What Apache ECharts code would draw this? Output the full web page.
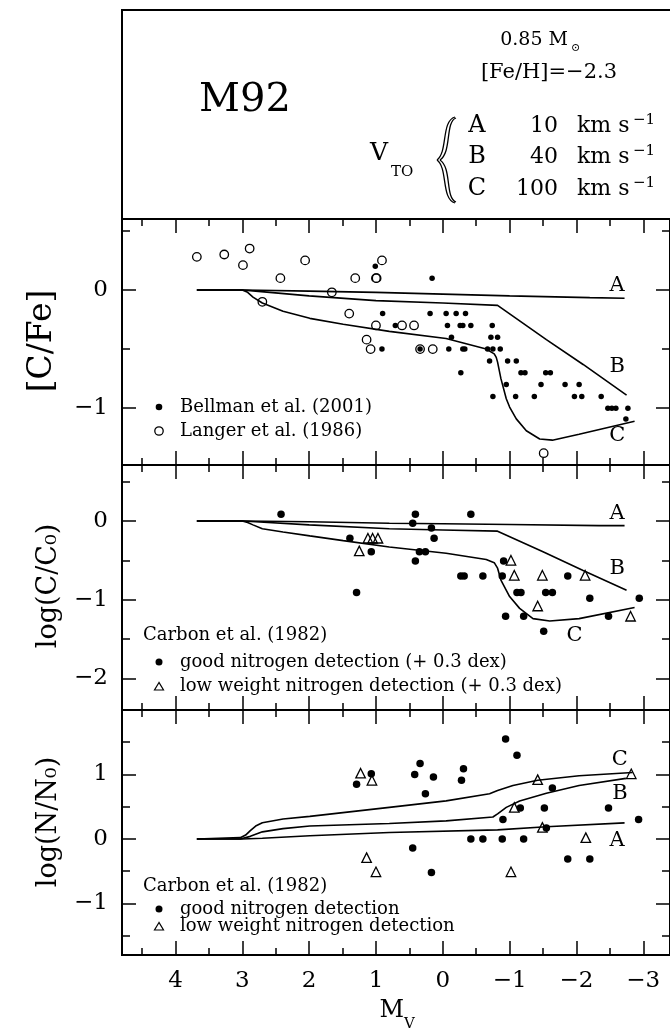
<!DOCTYPE html>
<html><head><meta charset="utf-8">
<script src="https://cdn.jsdelivr.net/npm/echarts@6/dist/echarts.min.js"></script>
<style>html,body{margin:0;padding:0;background:#fff}#c{width:670px;height:1033px}</style>
</head><body><div id="c"></div>
<script>
// ---------------- DATA ----------------
const xTickValues = [4, 3, 2, 1, 0, -1, -2, -3];

// Panel 1: [C/Fe]
const bellmanCFe = [[1.01,0.20],[0.16,0.10],[0.90,-0.20],[0.19,-0.20],[-0.05,-0.20],[-0.20,-0.20],[-0.34,-0.20],[0.71,-0.30],[-0.07,-0.30],[-0.26,-0.30],[-0.30,-0.30],[-0.42,-0.30],[-0.74,-0.30],[-0.13,-0.40],[-0.72,-0.40],[-0.82,-0.40],[0.91,-0.50],[0.34,-0.50],[-0.09,-0.50],[-0.30,-0.50],[-0.33,-0.50],[-0.67,-0.50],[-0.75,-0.50],[-0.86,-0.50],[-0.70,-0.60],[-0.97,-0.60],[-1.10,-0.60],[-0.27,-0.70],[-1.17,-0.70],[-1.23,-0.70],[-1.54,-0.70],[-1.61,-0.70],[-0.95,-0.80],[-1.47,-0.80],[-1.83,-0.80],[-2.04,-0.80],[-0.75,-0.90],[-1.09,-0.90],[-1.37,-0.90],[-1.97,-0.90],[-2.08,-0.90],[-2.37,-0.90],[-2.47,-1.00],[-2.53,-1.00],[-2.59,-1.00],[-2.77,-1.00],[-2.74,-1.09]];
const langerCFe = [[3.68,0.28],[3.27,0.30],[2.99,0.21],[2.89,0.35],[2.43,0.10],[2.06,0.25],[2.70,-0.10],[1.66,-0.02],[1.31,0.10],[0.91,0.25],[1.00,0.10],[0.99,0.10],[1.40,-0.20],[1.00,-0.30],[1.14,-0.42],[1.08,-0.50],[0.61,-0.30],[0.43,-0.30],[0.34,-0.50],[0.15,-0.50],[-1.51,-1.38]];
const modelA_CFe = [[3.68,0],[3.0,0],[2.0,-0.01],[1.0,-0.02],[0,-0.035],[-1.0,-0.05],[-2.2,-0.065],[-2.72,-0.07]];
const modelB_CFe = [[3.68,0],[3.0,0],[2.8,-0.01],[2.0,-0.05],[1.0,-0.09],[0,-0.11],[-0.82,-0.13],[-1.55,-0.42],[-2.1,-0.63],[-2.75,-0.89]];
const modelC_CFe = [[3.68,0],[3.0,0],[2.92,-0.02],[2.84,-0.06],[2.70,-0.11],[2.39,-0.18],[1.99,-0.24],[1.49,-0.29],[0.80,-0.35],[-0.05,-0.41],[-0.65,-0.50],[-0.77,-0.54],[-0.80,-0.57],[-0.82,-0.61],[-0.87,-0.75],[-0.95,-0.92],[-1.0,-0.99],[-1.10,-1.09],[-1.25,-1.19],[-1.45,-1.26],[-1.64,-1.27],[-2.04,-1.22],[-2.87,-1.11]];
const curveLabelsCFe = [['A',-2.61,0.04],['B',-2.61,-0.65],['C',-2.61,-1.23]];

// Panel 2: log(C/C0)
const carbonGoodCC = [[2.42,0.085],[1.39,-0.22],[1.07,-0.39],[1.29,-0.91],[0.41,0.085],[-0.42,0.085],[0.45,-0.03],[0.17,-0.09],[0.13,-0.22],[0.35,-0.39],[0.26,-0.39],[0.41,-0.51],[-0.27,-0.70],[-0.32,-0.70],[-0.60,-0.70],[-0.89,-0.70],[-0.91,-0.51],[-1.87,-0.70],[-1.11,-0.91],[-1.17,-0.91],[-1.54,-0.91],[-1.64,-0.91],[-2.20,-0.98],[-2.94,-0.98],[-0.94,-1.21],[-1.21,-1.21],[-1.51,-1.40],[-2.48,-1.21]];
const carbonLowCC = [[1.12,-0.22],[1.05,-0.22],[0.97,-0.22],[1.25,-0.38],[-1.02,-0.50],[-1.07,-0.69],[-1.49,-0.69],[-2.13,-0.69],[-1.42,-1.08],[-2.81,-1.21]];
const modelA_CC = [[3.68,0],[3.0,0],[2.0,-0.01],[0.8,-0.03],[0,-0.035],[-1.0,-0.045],[-2.34,-0.06],[-2.72,-0.06]];
const modelB_CC = [[3.68,0],[3.0,0],[2.8,-0.01],[2.0,-0.05],[0.8,-0.10],[0,-0.115],[-0.82,-0.13],[-1.5,-0.39],[-2.1,-0.63],[-2.75,-0.88]];
const modelC_CC = [[3.68,0],[3.0,0],[2.92,-0.02],[2.84,-0.05],[2.70,-0.10],[2.39,-0.14],[1.99,-0.19],[1.49,-0.25],[0.80,-0.33],[-0.05,-0.41],[-0.65,-0.49],[-0.77,-0.53],[-0.82,-0.60],[-0.87,-0.75],[-1.0,-0.96],[-1.15,-1.11],[-1.35,-1.24],[-1.6,-1.27],[-2.04,-1.24],[-2.87,-1.10]];
const curveLabelsCC = [['A',-2.61,0.09],['B',-2.61,-0.61],['C',-1.97,-1.46]];

// Panel 3: log(N/N0)
const carbonGoodNN = [[1.07,1.01],[1.29,0.85],[0.34,1.17],[0.42,1.00],[0.14,0.96],[0.26,0.70],[-0.31,1.09],[-0.28,0.91],[-0.94,1.55],[-1.11,1.30],[-1.64,0.79],[-1.16,0.48],[-1.52,0.48],[-2.48,0.48],[-0.90,0.30],[-1.55,0.17],[-2.93,0.30],[-0.42,0],[-0.60,0],[-0.89,0],[-1.21,0],[0.45,-0.14],[-1.87,-0.31],[-2.20,-0.31],[0.17,-0.52]];
const carbonLowNN = [[1.23,1.02],[1.06,0.91],[1.14,-0.29],[1.00,-0.51],[-1.42,0.92],[-2.82,1.01],[-1.07,0.49],[-1.49,0.18],[-2.14,0.02],[-1.02,-0.51]];
const modelA_NN = [[3.68,0],[3.0,0],[2.70,0.01],[1.99,0.05],[0.80,0.10],[-0.82,0.14],[-1.55,0.19],[-2.72,0.25]];
const modelB_NN = [[3.68,0],[3.03,0],[2.88,0.04],[2.70,0.11],[2.39,0.16],[1.99,0.20],[0.80,0.24],[-0.05,0.28],[-0.75,0.34],[-0.82,0.39],[-0.95,0.49],[-1.15,0.59],[-1.55,0.71],[-2.04,0.83],[-2.74,0.94]];
const modelC_NN = [[3.68,0],[3.03,0.02],[2.95,0.06],[2.88,0.13],[2.80,0.20],[2.70,0.25],[2.39,0.31],[1.99,0.35],[0.80,0.49],[-0.05,0.59],[-0.70,0.70],[-0.82,0.75],[-1.05,0.83],[-1.42,0.91],[-2.04,0.98],[-2.84,1.03]];
const curveLabelsNN = [['C',-2.65,1.23],['B',-2.65,0.70],['A',-2.61,-0.02]];

// ---------------- CHART ----------------
const FONT = '"DejaVu Serif", "Liberation Serif", serif';
const panels = [
  {top:219, height:246, ymin:-1.48, ymax:0.6,  split:2},
  {top:465, height:245, ymin:-2.4,  ymax:0.71, split:3},
  {top:710, height:245, ymin:-1.8,  ymax:2.0,  split:4}
];
const fmt = v => {
  if (Math.abs(v - Math.round(v)) > 1e-6) return '';
  const r = Math.round(v);
  return r < 0 ? '\u2212' + (-r) : String(r);
};
const tickStyle = {color:'#000', width:1.5};
const xAxes = [], yAxes = [];
panels.forEach((p, i) => {
  ['bottom','top'].forEach(pos => {
    xAxes.push({type:'value', gridIndex:i, position:pos, min:-3.4, max:4.8, inverse:true, splitNumber:8,
      axisLine:{show:false, onZero:false}, splitLine:{show:false},
      axisTick:{show:true, inside:true, length:14, lineStyle:tickStyle},
      minorTick:{show:true, splitNumber:2, length:7, lineStyle:tickStyle},
      axisLabel:{show: (i===2 && pos==='bottom'), margin:15, fontFamily:FONT, fontSize:23, color:'#000',
        showMinLabel:false, showMaxLabel:false, formatter:fmt}});
  });
  ['left','right'].forEach(pos => {
    yAxes.push({type:'value', gridIndex:i, position:pos, min:p.ymin, max:p.ymax, splitNumber:p.split,
      axisLine:{show:false, onZero:false}, splitLine:{show:false},
      axisTick:{show:true, inside:true, length:14, lineStyle:tickStyle},
      minorTick:{show:true, splitNumber:2, length:8, lineStyle:tickStyle},
      axisLabel:{show: pos==='left', margin:14, fontFamily:FONT, fontSize:23, color:'#000',
        showMinLabel:false, showMaxLabel:false, formatter:fmt}});
  });
});

const series = [];
function addLine(data, pi){ series.push({type:'line', xAxisIndex:2*pi, yAxisIndex:2*pi, data:data, symbol:'none', showSymbol:false, silent:true, lineStyle:{color:'#000', width:1.6, opacity:1}, z:3}); }
function addScatter(data, pi, kind, size){
  let symbol='circle', itemStyle;
  if (kind==='filled') itemStyle={color:'#000', opacity:1};
  else { itemStyle={color:'rgba(255,255,255,0)', borderColor:'#000', borderWidth:1.3, opacity:1}; if (kind==='triangle') symbol='triangle'; }
  series.push({type:'scatter', xAxisIndex:2*pi, yAxisIndex:2*pi, data:data, symbol:symbol, symbolSize:size, itemStyle:itemStyle, silent:true, z:4});
}
function addLabels(list, pi){
  series.push({type:'scatter', xAxisIndex:2*pi, yAxisIndex:2*pi, symbolSize:1, silent:true, z:5,
    itemStyle:{color:'rgba(0,0,0,0)', opacity:1},
    data:list.map(l=>({name:l[0], value:[l[1], l[2]]})),
    label:{show:true, position:'inside', formatter:p=>p.name, fontFamily:FONT, fontSize:21, color:'#000', opacity:1}});
}
addLine(modelA_CFe,0); addLine(modelB_CFe,0); addLine(modelC_CFe,0);
addScatter(langerCFe,0,'open',8.5); addScatter(bellmanCFe,0,'filled',5.5); addLabels(curveLabelsCFe,0);
addLine(modelA_CC,1); addLine(modelB_CC,1); addLine(modelC_CC,1);
addScatter(carbonGoodCC,1,'filled',7.5); addScatter(carbonLowCC,1,'triangle',9.5); addLabels(curveLabelsCC,1);
addLine(modelA_NN,2); addLine(modelB_NN,2); addLine(modelC_NN,2);
addScatter(carbonGoodNN,2,'filled',7.5); addScatter(carbonLowNN,2,'triangle',9.5); addLabels(curveLabelsNN,2);

function txt(x, y, text, size, align, extra){
  return Object.assign({type:'text', x:x, y:y, silent:true, z:10,
    style:{text:text, font:size+'px '+FONT, fill:'#000', align:align||'left', textAlign:align||'left', verticalAlign:'middle', textVerticalAlign:'middle'}}, extra||{});
}
function bez(x1,y1,c1x,c1y,c2x,c2y,x2,y2){
  return {type:'bezierCurve', silent:true, z:10, shape:{x1:x1,y1:y1,cpx1:c1x,cpy1:c1y,cpx2:c2x,cpy2:c2y,x2:x2,y2:y2}, style:{fill:null, stroke:'#000', lineWidth:1.3}};
}
const LG = 18;
const graphic = [
  {type:'rect', shape:{x:122, y:10, width:549, height:209}, style:{fill:'none', stroke:'#000', lineWidth:2}, silent:true},
  txt(245, 101, 'M92', 40, 'center'),
  txt(568, 40, '0.85 M', 19, 'right'),
  txt(571, 48, '\u2299', 11, 'left'),
  txt(549, 73, '[Fe/H]=\u22122.3', 21, 'center'),
  txt(379, 153, 'V', 25, 'center'),
  txt(391, 172, 'TO', 15, 'left'),
  bez(455,117, 441,121, 448,152, 437,160),
  bez(437,160, 448,168, 441,199, 455,203),
  bez(456,118, 445,122, 452,152, 440,160),
  bez(440,160, 452,168, 445,198, 456,202),
  txt(477, 126, 'A', 24, 'center'), txt(477, 157, 'B', 24, 'center'), txt(477, 189, 'C', 24, 'center'),
  txt(558, 126, '10', 22, 'right'), txt(558, 157, '40', 22, 'right'), txt(558, 189, '100', 22, 'right'),
  txt(577, 126, 'km s', 22, 'left'), txt(577, 157, 'km s', 22, 'left'), txt(577, 189, 'km s', 22, 'left'),
  txt(633, 120, '\u22121', 15, 'left'), txt(633, 151, '\u22121', 15, 'left'), txt(633, 183, '\u22121', 15, 'left'),
  // axis titles
  txt(42, 341, '[C/Fe]', 33, 'center', {rotation:Math.PI/2}),
  txt(49, 586, 'log(C/C\u2080)', 27, 'center', {rotation:Math.PI/2}),
  txt(49, 822, 'log(N/N\u2080)', 27, 'center', {rotation:Math.PI/2}),
  txt(404, 1011, 'M', 24, 'right'),
  txt(404, 1024, 'V', 15, 'left'),
  // legends
  {type:'circle', silent:true, shape:{cx:159, cy:407, r:3.3}, style:{fill:'#000'}},
  txt(180, 407, 'Bellman et al. (2001)', LG, 'left'),
  {type:'circle', silent:true, shape:{cx:159, cy:431, r:4.2}, style:{fill:'none', stroke:'#000', lineWidth:1.3}},
  txt(180, 431, 'Langer et al. (1986)', LG, 'left'),
  txt(143, 635, 'Carbon et al. (1982)', LG, 'left'),
  {type:'circle', silent:true, shape:{cx:159, cy:662, r:3.5}, style:{fill:'#000'}},
  txt(180, 662, 'good nitrogen detection (+ 0.3 dex)', LG, 'left'),
  {type:'polygon', silent:true, shape:{points:[[159,682.5],[154.5,690],[163.5,690]]}, style:{fill:'none', stroke:'#000', lineWidth:1.2}},
  txt(180, 686, 'low weight nitrogen detection (+ 0.3 dex)', LG, 'left'),
  txt(143, 886, 'Carbon et al. (1982)', LG, 'left'),
  {type:'circle', silent:true, shape:{cx:159, cy:909, r:3.5}, style:{fill:'#000'}},
  txt(180, 909, 'good nitrogen detection', LG, 'left'),
  {type:'polygon', silent:true, shape:{points:[[159,922.5],[154.5,930],[163.5,930]]}, style:{fill:'none', stroke:'#000', lineWidth:1.2}},
  txt(180, 926, 'low weight nitrogen detection', LG, 'left')
];

const chart = echarts.init(document.getElementById('c'), null, {renderer:'canvas'});
chart.setOption({
  animation:false,
  backgroundColor:'#fff',
  grid: panels.map(p=>({left:122, width:549, top:p.top, height:p.height, show:true, borderColor:'#000', borderWidth:2, backgroundColor:'rgba(0,0,0,0)'})),
  xAxis: xAxes, yAxis: yAxes, series: series, graphic: graphic
});
</script></body></html>
